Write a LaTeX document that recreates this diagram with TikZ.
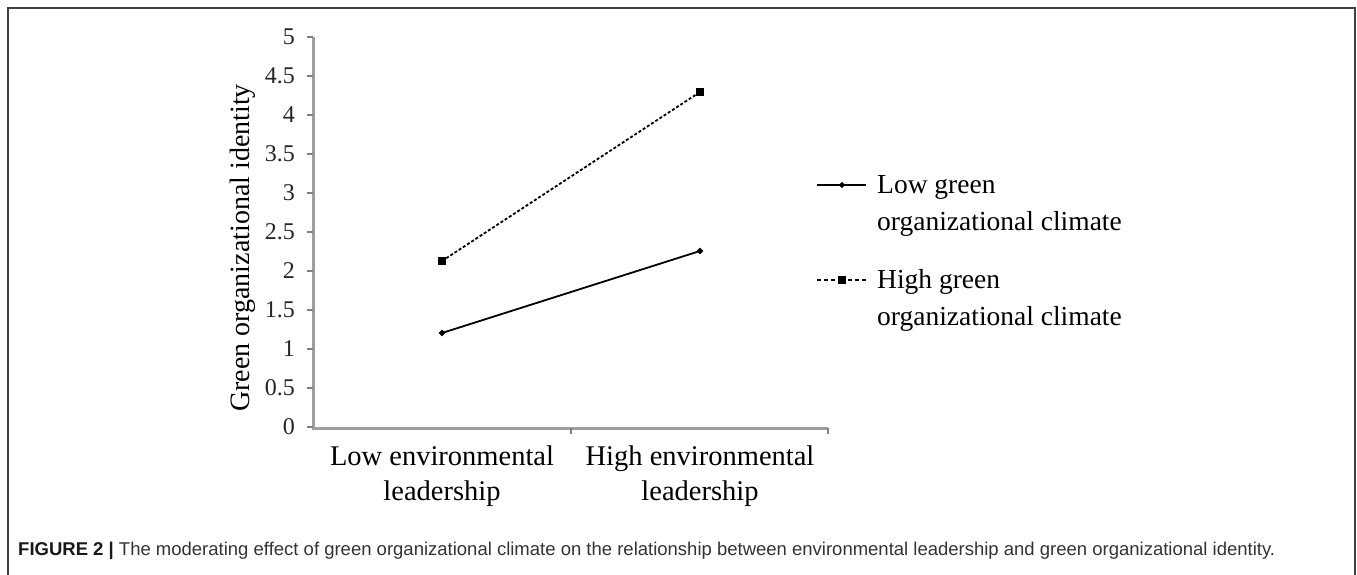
\documentclass[tikz,border=0pt]{standalone}
\usepackage{fontspec}
\usetikzlibrary{shapes.geometric}
\setmainfont{Liberation Serif}
\newfontfamily\capfont{Liberation Sans}
\newcommand{\tickfont}{\fontsize{24}{26}\selectfont}
\begin{document}
\begin{tikzpicture}[x=1pt,y=-1pt,
  frame/.style={draw=black!75,line width=1.5pt},
  axis/.style={draw=black!38,line width=3pt},
  tick/.style={draw=black!50,line width=1.2pt},
  ticklab/.style={text=black!85,anchor=east,inner sep=0pt},
  catlab/.style={font=\fontsize{28.5}{35}\selectfont,align=center,inner sep=0pt,anchor=base},
  leglab/.style={font=\fontsize{27.5}{37}\selectfont,align=left,anchor=base west,inner sep=0pt},
  lowpt/.style={diamond,fill=black,inner sep=0pt,minimum size=7pt},
  highpt/.style={rectangle,fill=black,inner sep=0pt,minimum size=8.5pt},
  lowline/.style={draw=black,line width=1.8pt},
  highline/.style={draw=black,line width=1.8pt,dash pattern=on 3pt off 2pt}]
\useasboundingbox (0,0) rectangle (1357,575);
\fill[white] (0,0) rectangle (1357,575);
\draw[frame] (8,575) -- (8,8) -- (1355,8) -- (1355,575);
% axes
\draw[axis] (313,37) -- (313,428) -- (828,428);
\foreach \i in {0,...,10}{
  \pgfmathsetmacro{\yy}{427-39*\i}
  \draw[tick] (307,\yy) -- (313,\yy);
}
\node[ticklab] (t0) at (295,427) {\tickfont 0};
\node[ticklab] (t1) at (295,388) {\tickfont 0.5};
\node[ticklab] (t2) at (295,349) {\tickfont 1};
\node[ticklab] (t3) at (295,310) {\tickfont 1.5};
\node[ticklab] (t4) at (295,271) {\tickfont 2};
\node[ticklab] (t5) at (295,232) {\tickfont 2.5};
\node[ticklab] (t6) at (295,193) {\tickfont 3};
\node[ticklab] (t7) at (295,154) {\tickfont 3.5};
\node[ticklab] (t8) at (295,115) {\tickfont 4};
\node[ticklab] (t9) at (295,76) {\tickfont 4.5};
\node[ticklab] (t10) at (295,37) {\tickfont 5};
\draw[tick] (571,428) -- (571,434);
\draw[tick] (828,428) -- (828,434);
\node[rotate=90,font=\fontsize{28}{30}\selectfont,inner sep=0pt] (ylab) at (243,248) {Green organizational identity};
\node[catlab] (c1) at (442,500) {Low environmental\\leadership};
\node[catlab] (c2) at (700,500) {High environmental\\leadership};
% data
\node[lowpt] (l1) at (442,333) {};
\node[lowpt] (l2) at (700,251) {};
\node[highpt] (h1) at (442,261) {};
\node[highpt] (h2) at (700,92) {};
\draw[lowline] (l1.center) -- (l2.center);
\draw[highline] (h1.center) -- (h2.center);
% legend
\coordinate (la) at (817,185);
\coordinate (lb) at (866,185);
\node[lowpt,minimum size=6.5pt] (lm) at (842,185) {};
\draw[lowline,line width=1.5pt] (la) -- (lb);
\node[leglab] (lt) at (877,230) {Low green\\organizational climate};
\coordinate (ha) at (817,280);
\coordinate (hb) at (866,280);
\node[highpt,minimum size=8pt] (hm) at (842,280) {};
\draw[line width=1.5pt,dash pattern=on 4pt off 3pt] (ha) -- (hm.west);
\draw[line width=1.5pt,dash pattern=on 4pt off 3pt] (hb) -- (hm.east);
\node[leglab] (ht) at (877,325) {High green\\organizational climate};
% caption
\node[anchor=base west,inner sep=0pt,font=\capfont\fontsize{18.5}{20}\selectfont,text=black!80] (cap) at (18,555)
  {\textbf{\color{black!90}FIGURE 2 |} The moderating effect of green organizational climate on the relationship between environmental leadership and green organizational identity.};
\end{tikzpicture}
\end{document}
